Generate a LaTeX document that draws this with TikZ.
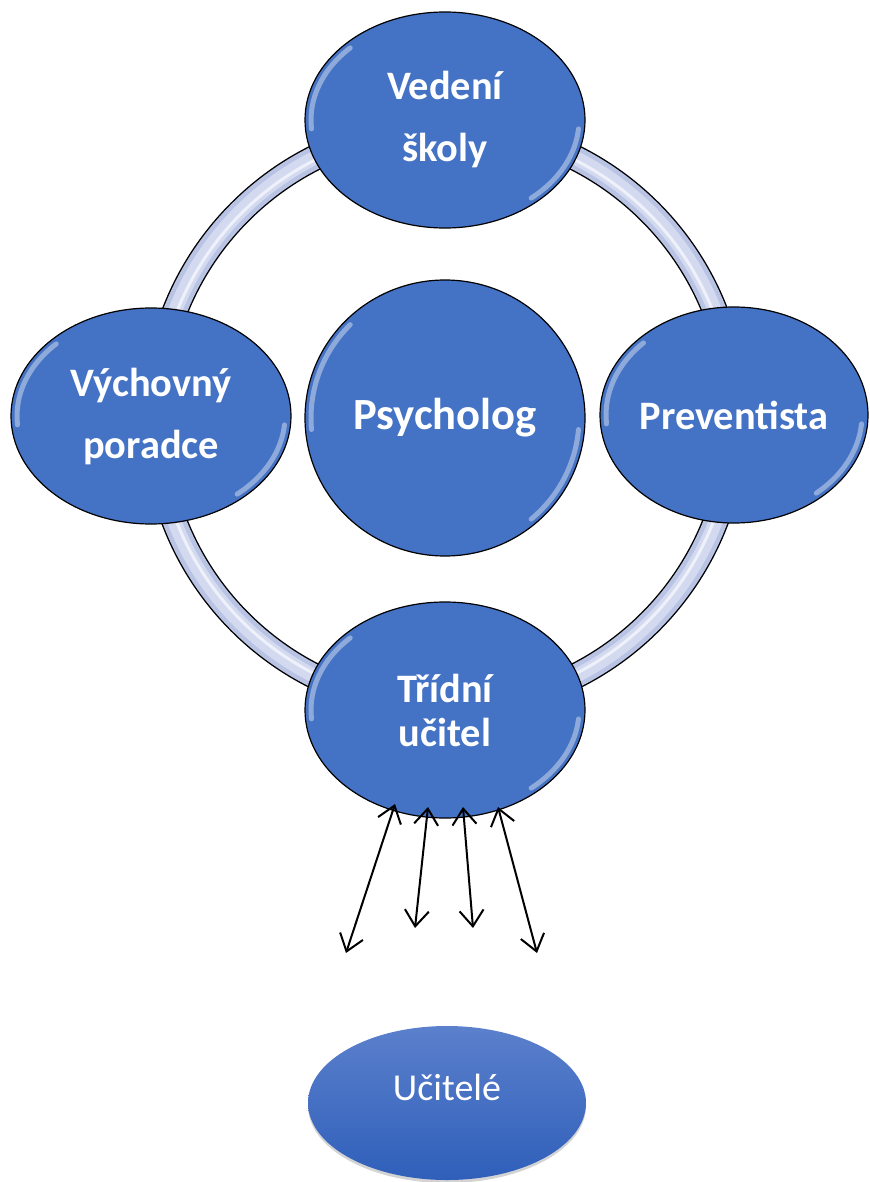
\documentclass[tikz,border=0pt]{standalone}
\usepackage{fontspec}
\setmainfont{Carlito}
\usetikzlibrary{shapes.geometric,arrows.meta,shadows}
\definecolor{nodeblue}{HTML}{4472C4}
\definecolor{ringedge}{HTML}{B9C3E4}
\definecolor{ringfill}{HTML}{D3DAF0}
\definecolor{ringlight}{HTML}{EEF1FA}
\definecolor{topblue}{HTML}{5B80CC}
\definecolor{lowblue}{HTML}{2F5FBA}
\tikzset{
  member/.style={ellipse,draw=black,line width=.6pt,fill=nodeblue,text=white,
    font=\bfseries\fontsize{20.2}{31}\selectfont,align=center,inner sep=0pt,
    minimum width=140pt,minimum height=108pt},
  bevelline/.style={white,opacity=.4,line width=2.5pt,line cap=round},
  arrowline/.style={<->,line width=1pt},
}
% glints on the rim of a node: node, x radius, y radius
\newcommand\bevel[3]{%
  \draw[bevelline] ([shift={(175:#2 and #3)}]#1.center) arc[start angle=175,end angle=225,x radius=#2,y radius=#3];
  \draw[bevelline] ([shift={(5:#2 and #3)}]#1.center) arc[start angle=5,end angle=50,x radius=#2,y radius=#3];
}
\begin{document}
\begin{tikzpicture}[x=.5pt,y=-.5pt,>={Straight Barb[length=8pt,width=12pt]}]
	\useasboundingbox (0,0) rectangle (870,1182);
	% ring
	\draw[line width=13pt] (445,417) circle[radius=290];
	\draw[ringedge,line width=11.6pt] (445,417) circle[radius=290];
	\draw[ringfill,line width=7pt] (445,417) circle[radius=290];
	\draw[ringlight,line width=1.5pt] (445,417) circle[radius=288];
	% members
	\node[member] (vedeni) at (445,120) {Vedení\\školy};
	\node[member] (vychovny) at (151,416) {Výchovný\\poradce};
	\node[member,font=\bfseries\fontsize{22.3}{26}\selectfont,minimum height=138pt] (psycholog) at (445,418) {Psycholog};
	\node[member,minimum width=134pt] (preventista) at (734,415) {Preventista};
	\node[member,font=\bfseries\fontsize{20.2}{22}\selectfont] (tridni) at (445,710) {Třídní\\učitel};
	\bevel{vedeni}{134}{102}
	\bevel{vychovny}{134}{102}
	\bevel{psycholog}{134}{132}
	\bevel{preventista}{128}{102}
	\bevel{tridni}{134}{102}
	% teachers
	\node[ellipse,top color=topblue,bottom color=lowblue,text=white,
		font=\fontsize{19}{23}\selectfont,inner sep=0pt,minimum width=139pt,minimum height=77pt,
		text height=14pt,text depth=17pt,
		drop shadow={opacity=.35,shadow xshift=0pt,shadow yshift=-1.5pt}] (ucitele) at (447,1103) {Učitelé};
	\foreach \i/\xt/\yt/\xb/\yb in {1/395/804/346/953,2/428/807/415/928,3/463/807/473/928,4/498/807/537/953}{
		\coordinate (up\i) at (\xt,\yt);
		\coordinate (down\i) at (\xb,\yb);
		\draw[arrowline] (up\i) -- (down\i);
	}
\end{tikzpicture}
\end{document}
